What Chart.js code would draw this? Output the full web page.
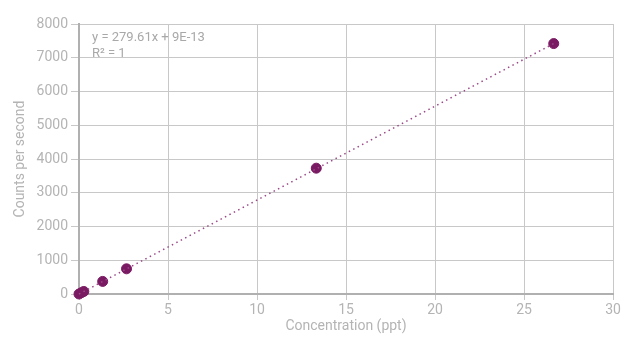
<!DOCTYPE html>
<html>
<head>
<meta charset="utf-8">
<script src="https://cdn.jsdelivr.net/npm/chart.js@4/dist/chart.umd.min.js"></script>
<style>
  html, body { margin: 0; padding: 0; background: #fff; }
  #wrap { width: 623px; height: 339px; }
</style>
</head>
<body>
<div id="wrap"><canvas id="myChart"></canvas></div>
<script>
// calibration points
const concentration = [0, 0.13, 0.27, 1.33, 2.67, 13.33, 26.67];
const counts = [0, 37, 75, 373, 746, 3728, 7420];
// trend line end points
const trendX = [0, 26.67];
const trendY = [0, 7420];
const xTicks = [0, 5, 10, 15, 20, 25, 30];
const yTicks = [0, 1000, 2000, 3000, 4000, 5000, 6000, 7000, 8000];
const eqLines = ['y = 279.61x + 9E-13', 'R\u00B2 = 1'];

const purple = '#7a1a62';
const grey = '#b4b4b4';
const gridGrey = '#c8c8c8';

const equation = {
  id: 'equation',
  afterDatasetsDraw(chart) {
    const { ctx, chartArea: { left, top } } = chart;
    ctx.save();
    ctx.fillStyle = '#a8a8a8';
    ctx.font = '13px Roboto';
    ctx.textBaseline = 'alphabetic';
    ctx.fillText(eqLines[0], left + 13, top + 17);
    ctx.fillText(eqLines[1], left + 13, top + 33);
    ctx.restore();
  }
};

new Chart(document.getElementById('myChart'), {
  type: 'scatter',
  data: {
    datasets: [{
      type: 'line',
      data: trendX.map((x, i) => ({ x: x, y: trendY[i] })),
      borderColor: '#9a4a88',
      borderWidth: 1.5,
      borderDash: [1.5, 3.5],
      pointRadius: 0,
      fill: false,
      clip: false
    }, {
      data: concentration.map((x, i) => ({ x: x, y: counts[i] })),
      backgroundColor: purple,
      borderColor: purple,
      pointRadius: 5,
      pointHoverRadius: 5,
      clip: false
    }]
  },
  options: {
    responsive: true,
    maintainAspectRatio: false,
    animation: false,
    layout: { padding: { top: 24, right: 10, left: 8, bottom: 0 } },
    plugins: { legend: { display: false }, tooltip: { enabled: false } },
    scales: {
      x: {
        type: 'linear',
        min: 0, max: 30,
        afterBuildTicks: s => { s.ticks = xTicks.map(v => ({ value: v })); },
        afterFit: s => { s.height = 45; },
        grid: { color: gridGrey, tickLength: 6, lineWidth: 1 },
        border: { color: '#b0b0b0', width: 2 },
        ticks: { color: grey, font: { family: 'Roboto', size: 14 }, padding: 2, callback: v => String(v) },
        title: { display: true, text: 'Concentration (ppt)', color: grey, font: { family: 'Roboto', size: 14 }, padding: { top: 6 } }
      },
      y: {
        min: 0, max: 8000,
        afterBuildTicks: s => { s.ticks = yTicks.map(v => ({ value: v })); },
        afterFit: s => { s.width = 71; },
        grid: { color: gridGrey, tickLength: 8, lineWidth: 1 },
        border: { color: '#b0b0b0', width: 2 },
        ticks: { color: grey, font: { family: 'Roboto', size: 14 }, padding: 3, callback: v => String(v) },
        title: { display: true, text: 'Counts per second', color: grey, font: { family: 'Roboto', size: 14 }, padding: { bottom: 4 } }
      }
    }
  },
  plugins: [equation]
});
</script>
</body>
</html>
